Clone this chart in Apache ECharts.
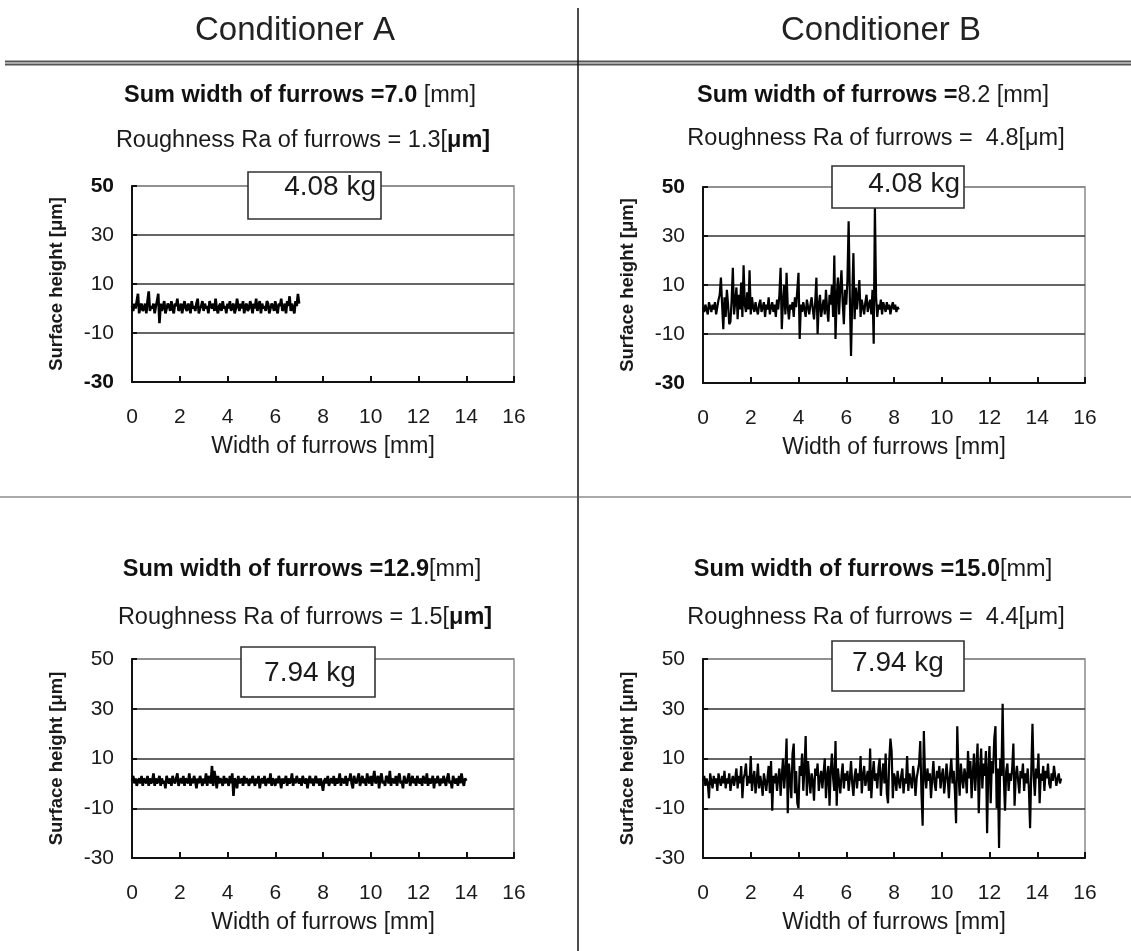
<!DOCTYPE html>
<html><head><meta charset="utf-8">
<script src="https://cdn.jsdelivr.net/npm/echarts/dist/echarts.min.js"></script>
<style>html,body{margin:0;padding:0;background:#fff}#c{width:1131px;height:951px}</style>
</head><body><div id="c"></div>
<script>
// ---------------- data ----------------
const xStep = 0.05; // sampling step of the profiles [mm]
const headers = ['Conditioner A', 'Conditioner B'];
const sumWidths = ['7.0', '8.2', '12.9', '15.0'];
const roughness = ['1.3', '4.8', '1.5', '4.4'];
const loads = ['4.08 kg', '4.08 kg', '7.94 kg', '7.94 kg'];
const xMin = 0, xMax = 16, xInterval = 2;
const yMin = -30, yMax = 50, yInterval = 20;
const xName = 'Width of furrows [mm]';
const yName = 'Surface height [μm]';

// Conditioner A, 4.08 kg (0 - 7.0 mm)
const heightsA1 = [
  1,-1,2,0,3,6,-2,1,2,-1,0,2,-2,3,7,-1,1,0,2,-2,
  1,3,6,-6,2,-1,1,3,-2,0,2,1,-1,3,0,-2,2,1,4,-1,
  0,2,-2,1,3,0,-1,2,1,-2,3,0,1,-1,2,4,-2,0,1,3,
  -1,2,0,1,-2,3,1,0,2,-1,4,0,-2,1,2,-1,3,0,1,-2,
  2,0,3,-1,1,2,-2,0,4,1,-1,2,0,3,-2,1,2,-1,0,3,
  1,-2,2,0,4,-1,1,3,-2,2,0,1,-1,3,2,-2,0,2,1,-1,
  3,0,-2,2,1,4,-1,0,2,-2,3,1,5,-1,2,0,-2,3,1,6,
  2
];
// Conditioner B, 4.08 kg (0 - 8.2 mm)
const heightsB1 = [
  1,-1,2,0,-2,3,1,-1,2,0,3,-2,1,4,6,13,2,-8,5,-3,
  8,2,-6,-5,4,17,-2,3,9,-4,6,0,11,-3,18,2,-1,7,0,16,
  -2,5,1,-1,3,0,-2,2,4,-1,1,3,-3,2,0,5,-2,1,3,-1,
  2,-3,4,0,6,17,-8,3,10,-2,15,1,-4,2,0,3,-3,5,1,8,
  15,-12,2,-1,3,0,-3,4,1,-2,2,5,0,-4,3,13,-10,2,6,-3,
  1,4,-2,8,0,-5,6,2,10,-3,22,-12,5,13,-2,9,16,3,-6,8,
  2,12,36,5,-19,4,23,-4,9,0,6,12,-3,4,1,-2,3,6,-1,2,
  4,-2,8,-14,42,5,-3,2,0,4,-2,3,1,-1,3,0,2,-2,1,3,
  0,2,-1,1,0
];
// Conditioner A, 7.94 kg (0 - 14.0 mm)
const heightsA2 = [
  1,3,0,2,-1,1,2,0,3,-1,2,1,0,3,-1,2,0,1,4,-1,
  2,0,1,3,-1,2,0,1,-2,3,1,0,2,-1,3,1,0,2,4,-1,
  1,2,0,3,-1,2,1,0,4,-1,2,0,3,1,-2,2,0,3,1,-1,
  2,0,4,-1,3,1,0,7,-1,5,2,-2,3,0,2,1,-1,3,0,2,
  1,-1,3,0,4,-5,2,1,-2,3,0,1,2,-1,3,0,2,1,-1,2,
  0,3,1,-1,2,0,3,-2,1,2,0,3,-1,1,2,0,4,-1,2,1,
  -1,2,0,3,1,-2,2,0,1,3,-1,2,0,1,4,-1,2,0,3,1,
  0,2,-1,3,1,0,2,-2,1,3,0,2,-1,1,3,0,2,-1,2,0,
  -3,1,2,0,3,-1,1,2,0,3,-1,2,0,1,4,-1,2,1,0,3,
  -1,2,1,4,0,-2,3,1,0,2,4,-1,1,3,0,2,-1,4,1,0,
  3,-1,2,5,0,1,3,-2,2,4,0,1,-1,3,2,0,5,-1,2,1,
  0,3,-1,2,4,0,1,-2,3,1,0,2,4,-1,1,3,0,2,-1,3,
  1,0,2,-1,3,1,0,4,-1,2,0,1,3,-2,2,0,3,1,-1,2,
  0,3,1,-1,2,4,0,1,-2,3,1,0,2,-1,3,0,4,1,-1,2,
  1
];
// Conditioner B, 7.94 kg (0 - 15.0 mm)
const heightsB2 = [
  1,3,-1,2,0,-6,4,1,-2,3,0,2,-3,4,1,-1,3,0,5,-2,
  2,0,4,-3,1,3,-1,2,6,-2,3,0,7,-6,2,4,8,-1,3,0,
  11,-3,2,5,-4,1,8,-2,3,0,-5,4,1,-3,2,7,-4,9,-11,3,
  0,4,-3,2,6,-5,3,10,-2,5,18,-12,8,2,-6,12,16,-4,5,-8,
  -10,7,3,12,-3,6,19,-5,9,2,-4,4,1,-7,6,3,8,-3,2,5,
  -2,4,10,-6,3,7,-9,5,12,2,-3,17,-9,6,1,-4,3,8,-2,4,
  1,5,-3,2,9,0,-5,3,6,-2,4,1,11,-4,3,7,-1,2,5,-3,
  14,-6,3,9,1,4,-2,6,10,-5,3,8,0,12,-4,-8,9,18,13,-6,
  4,2,-3,5,1,-2,3,6,-4,2,0,11,-3,4,1,-2,7,3,-5,2,
  5,8,17,-4,-17,21,3,-2,6,1,4,-6,2,9,0,-3,5,2,7,-2,
  3,6,-4,1,8,2,-6,4,10,0,5,-3,-16,23,4,-5,8,2,-2,6,
  3,-4,13,2,9,-6,4,12,-3,6,16,-12,5,14,-2,8,3,13,-20,6,
  15,-8,9,4,18,23,-10,6,-26,10,3,32,2,-11,5,8,-3,4,1,6,
  16,-9,3,7,1,-4,5,2,8,-3,4,0,6,-2,-18,5,24,3,-5,6,
  2,12,-8,4,1,7,-3,5,2,8,0,-2,4,1,7,3,-1,2,4,0,
  2
];
const profiles = [heightsA1, heightsB1, heightsA2, heightsB2];

// ---------------- layout ----------------
const FONT = '"Liberation Sans", Arial, sans-serif';
const panels = [
  {grid:{left:132, top:186, width:382, height:196}, cx:300, sumY:96, roughY:141, boldEnds:true, lw:2.6,
   box:{x:248,y:172,w:133,h:47}, boxText:{x:376,y:187,align:'right'}},
  {grid:{left:703, top:187, width:382, height:196}, cx:873, sumY:96, roughY:139, boldEnds:true, lw:2.2,
   box:{x:832,y:166,w:132,h:42}, boxText:{x:960,y:184,align:'right'}},
  {grid:{left:132, top:659, width:382, height:199}, cx:302, sumY:570, roughY:618, boldEnds:false, lw:2.6,
   box:{x:241,y:647,w:134,h:50}, boxText:{x:310,y:673,align:'center'}},
  {grid:{left:703, top:659, width:382, height:199}, cx:873, sumY:570, roughY:618, boldEnds:false, lw:2.2,
   box:{x:832,y:641,w:132,h:50}, boxText:{x:898,y:663,align:'center'}}
];

const grids = [], xAxes = [], yAxes = [], series = [], graphic = [];
panels.forEach((p, k) => {
  grids.push(Object.assign({show:true, borderColor:'#8a8a8a', borderWidth:1.5, backgroundColor:'transparent'}, p.grid));
  xAxes.push({
    gridIndex:k, type:'value', min:xMin, max:xMax, interval:xInterval,
    name:xName, nameLocation:'middle', nameGap:53,
    nameTextStyle:{fontFamily:FONT, fontSize:23, color:'#1a1a1a'},
    axisLine:{show:true, onZero:false, lineStyle:{color:'#111', width:2}},
    axisTick:{show:true, inside:true, length:6, lineStyle:{color:'#111', width:2}},
    axisLabel:{margin:25, fontFamily:FONT, fontSize:21, color:'#1a1a1a'},
    splitLine:{show:false}
  });
  const bold = p.boldEnds;
  yAxes.push({
    gridIndex:k, type:'value', min:yMin, max:yMax, interval:yInterval,
    name:yName, nameLocation:'middle', nameGap:66,
    nameTextStyle:{fontFamily:FONT, fontSize:18.5, fontWeight:'bold', color:'#1a1a1a'},
    axisLine:{show:true, onZero:false, lineStyle:{color:'#111', width:2}},
    axisTick:{show:true, inside:true, length:5, lineStyle:{color:'#111', width:2}},
    axisLabel:{margin:18, fontFamily:FONT, fontSize:21, color:'#1a1a1a',
      formatter: v => (bold && (v === yMax || v === yMin)) ? '{b|' + v + '}' : String(v),
      rich:{b:{fontFamily:FONT, fontSize:21, fontWeight:'bold', color:'#111'}}},
    splitLine:{show:true, lineStyle:{color:['#333','#333','#333','#333','#8a8a8a'], width:1.6}}
  });
  series.push({
    type:'line', xAxisIndex:k, yAxisIndex:k, showSymbol:false, symbol:'none',
    lineStyle:{color:'#000', width:p.lw}, z:3,
    data: profiles[k].map((h, i) => [+(i * xStep).toFixed(2), h])
  });

  // panel titles
  let sumRich;
  if (k === 0) sumRich = '{b|Sum width of furrows =' + sumWidths[k] + '}{n| [mm]}';
  else if (k === 1) sumRich = '{b|Sum width of furrows =}{n|' + sumWidths[k] + ' [mm]}';
  else sumRich = '{b|Sum width of furrows =' + sumWidths[k] + '}{n|[mm]}';
  graphic.push({type:'text', z:10, style:{text:sumRich, x:p.cx, y:p.sumY, align:'center', verticalAlign:'middle',
    rich:{b:{fontFamily:FONT, fontSize:23.5, fontWeight:'bold', fill:'#111'}, n:{fontFamily:FONT, fontSize:23.5, fill:'#1a1a1a'}}}});
  const roughRich = (k % 2 === 0)
    ? '{n|Roughness Ra of furrows = ' + roughness[k] + '[}{b|μm]}'
    : '{n|Roughness Ra of furrows =  ' + roughness[k] + '[μm]}';
  graphic.push({type:'text', z:10, style:{text:roughRich, x:p.cx + 3, y:p.roughY, align:'center', verticalAlign:'middle',
    rich:{b:{fontFamily:FONT, fontSize:23.5, fontWeight:'bold', fill:'#111'}, n:{fontFamily:FONT, fontSize:23.5, fill:'#1a1a1a'}}}});
  // load box
  graphic.push({type:'rect', z:20, shape:{x:p.box.x, y:p.box.y, width:p.box.w, height:p.box.h},
    style:{fill:'#fff', stroke:'#333', lineWidth:1.6}});
  graphic.push({type:'text', z:21, style:{text:loads[k], x:p.boxText.x, y:p.boxText.y, align:p.boxText.align,
    verticalAlign:'middle', font:'28px ' + FONT, fill:'#1a1a1a'}});
});

// headers and separators
graphic.push({type:'text', z:10, style:{text:headers[0], x:295, y:31, align:'center', verticalAlign:'middle', font:'33px ' + FONT, fill:'#222'}});
graphic.push({type:'text', z:10, style:{text:headers[1], x:881, y:31, align:'center', verticalAlign:'middle', font:'33px ' + FONT, fill:'#222'}});
graphic.push({type:'line', z:5, shape:{x1:5, y1:61.5, x2:1131, y2:61.5}, style:{stroke:'#555', lineWidth:1.8}});
graphic.push({type:'line', z:5, shape:{x1:5, y1:64.5, x2:1131, y2:64.5}, style:{stroke:'#555', lineWidth:1.8}});
graphic.push({type:'line', z:5, shape:{x1:578, y1:8, x2:578, y2:951}, style:{stroke:'#111', lineWidth:1.5}});
graphic.push({type:'line', z:5, shape:{x1:0, y1:497, x2:1131, y2:497}, style:{stroke:'#555', lineWidth:1.2}});

const chart = echarts.init(document.getElementById('c'), null, {renderer:'canvas'});
chart.setOption({
  animation:false,
  backgroundColor:'#fff',
  grid:grids, xAxis:xAxes, yAxis:yAxes, series:series, graphic:graphic
});
</script>
</body></html>
